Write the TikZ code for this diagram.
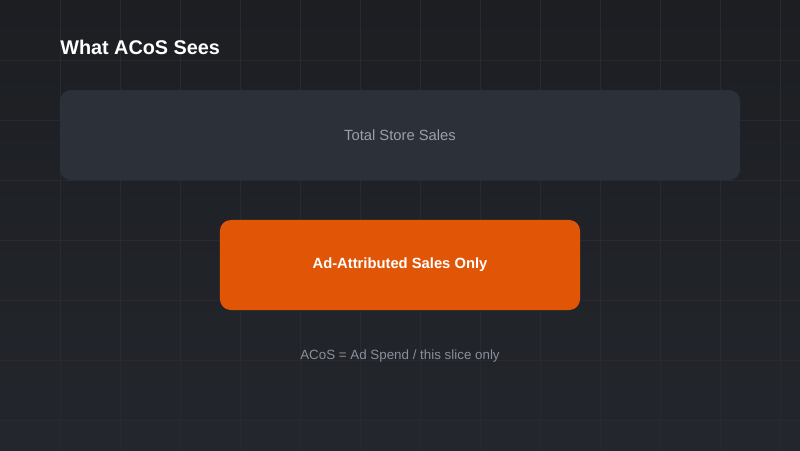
\documentclass[tikz,border=0pt]{standalone}
\usepackage{fontspec}
\setmainfont{Liberation Sans}
\definecolor{bgtop}{HTML}{1C1E22}
\definecolor{bgbottom}{HTML}{23262C}
\definecolor{gridcol}{HTML}{272A30}
\definecolor{panelcol}{HTML}{2C3039}
\definecolor{panelText}{HTML}{9AA0A8}
\definecolor{adOrange}{HTML}{E05606}
\definecolor{noteText}{HTML}{8A9099}
\begin{document}
\begin{tikzpicture}[
        x=0.025cm, y=-0.025cm,
        gridline/.style={gridcol, line width=0.7pt},
        slicebox/.style={rectangle, rounded corners=0.27cm, inner sep=0pt},
        titletext/.style={font=\fontsize{14.1}{16}\selectfont\bfseries, text=white, anchor=base west, inner sep=0pt}
    ]
        % Background with faint grid
        \useasboundingbox (0,0) rectangle (800,450);
        \shade[top color=bgtop, bottom color=bgbottom] (0,0) rectangle (800,450);
        \foreach \x in {60,120,...,780} {
            \draw[gridline] (\x,0) -- (\x,450);
        }
        \foreach \y in {60,120,...,420} {
            \draw[gridline] (0,\y) -- (800,\y);
        }
        \node[titletext] (title) at (60,54) {What ACoS Sees};
        % Whole store vs. ad slice
        \node[slicebox, fill=panelcol, minimum width=17cm, minimum height=2.25cm,
            text=panelText, font=\fontsize{10.5}{12}\selectfont]
            (store) at (400,135) {Total Store Sales};
        \node[slicebox, fill=adOrange, minimum width=9cm, minimum height=2.25cm,
            text=white, font=\fontsize{10.5}{12}\selectfont\bfseries]
            (adsales) at (400,265) {Ad-Attributed Sales Only};
        \node[text=noteText, font=\fontsize{9.5}{11}\selectfont]
            (note) at (400,356) {ACoS = Ad Spend / this slice only};
    \end{tikzpicture}
\end{document}
